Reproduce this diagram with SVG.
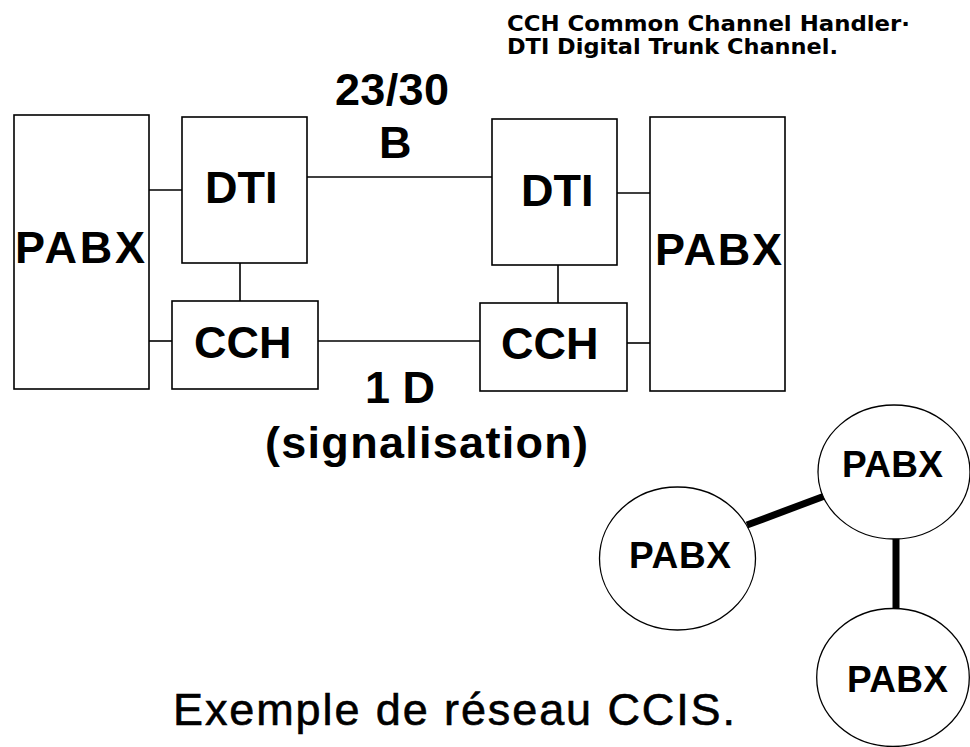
<svg xmlns="http://www.w3.org/2000/svg" width="970" height="747" viewBox="0 0 970 747">
<style>
.box{fill:#fff;stroke:#000;stroke-width:1.6}
.ell{fill:#fff;stroke:#000;stroke-width:1.3}
.ln{stroke:#000;stroke-width:1.6;fill:none}
.thk{stroke:#000;stroke-width:7;fill:none}
.b{font-family:"Liberation Sans",Arial,sans-serif;font-weight:bold;fill:#000}
.big{font-size:45px}
.mid{font-size:37px}
.hdr{font-family:"DejaVu Sans","Liberation Sans",sans-serif;font-weight:bold;font-size:21px;fill:#000}
.ttl{font-family:"Liberation Sans",Arial,sans-serif;font-size:45px;fill:#000;stroke:#000;stroke-width:0.6}
</style>
<rect width="970" height="747" fill="#fff"/>
<g id="connectors">
<line class="ln" x1="149" y1="190" x2="182" y2="190"/>
<line class="ln" x1="149" y1="341" x2="172" y2="341"/>
<line class="ln" x1="240" y1="263" x2="240" y2="301"/>
<line class="ln" x1="307" y1="177" x2="492" y2="177"/>
<line class="ln" x1="318" y1="341" x2="480" y2="341"/>
<line class="ln" x1="617" y1="193" x2="650" y2="193"/>
<line class="ln" x1="558" y1="265" x2="558" y2="303"/>
<line class="ln" x1="627" y1="343" x2="650" y2="343"/>
<line class="thk" x1="747" y1="525" x2="830" y2="494"/>
<line class="thk" x1="896" y1="536" x2="896" y2="609"/>
</g>
<g id="pabx-left">
<rect class="box" x="14" y="115" width="135" height="274"/>
<text class="b big" x="15" y="263" textLength="130" lengthAdjust="spacing">PABX</text>
</g>
<g id="dti-left">
<rect class="box" x="182" y="117" width="125" height="146"/>
<text class="b big" x="205" y="203">DTI</text>
</g>
<g id="cch-left">
<rect class="box" x="172" y="301" width="146" height="88"/>
<text class="b big" x="194" y="358">CCH</text>
</g>
<g id="dti-right">
<rect class="box" x="492" y="119" width="125" height="146"/>
<text class="b big" x="521" y="206">DTI</text>
</g>
<g id="cch-right">
<rect class="box" x="480" y="303" width="147" height="88"/>
<text class="b big" x="501" y="359">CCH</text>
</g>
<g id="pabx-right">
<rect class="box" x="650" y="117" width="135" height="274"/>
<text class="b big" x="655" y="265" textLength="127" lengthAdjust="spacing">PABX</text>
</g>
<g id="labels">
<text class="b big" x="335" y="105" textLength="114" lengthAdjust="spacing">23/30</text>
<text class="b big" x="379" y="158">B</text>
<text class="b big" x="365" y="403">1 D</text>
<text class="b big" x="265" y="458" textLength="323" lengthAdjust="spacing">(signalisation)</text>
</g>
<g id="legend">
<text class="hdr" x="507" y="31" textLength="403" lengthAdjust="spacingAndGlyphs">CCH Common Channel Handler·</text>
<text class="hdr" x="507" y="54" textLength="331" lengthAdjust="spacingAndGlyphs">DTI Digital Trunk Channel.</text>
</g>
<g id="circle-left">
<ellipse class="ell" cx="677.5" cy="558.5" rx="78" ry="71.5"/>
<text class="b mid" x="629" y="568" textLength="102" lengthAdjust="spacing">PABX</text>
</g>
<g id="circle-top">
<ellipse class="ell" cx="894" cy="472" rx="76" ry="67"/>
<text class="b mid" x="842" y="477" textLength="101" lengthAdjust="spacing">PABX</text>
</g>
<g id="circle-bottom">
<ellipse class="ell" cx="893" cy="677.5" rx="76.3" ry="69"/>
<text class="b mid" x="847" y="692" textLength="101" lengthAdjust="spacing">PABX</text>
</g>
<g id="title">
<text class="ttl" x="173" y="725" textLength="562" lengthAdjust="spacing">Exemple de réseau CCIS.</text>
</g>
</svg>
